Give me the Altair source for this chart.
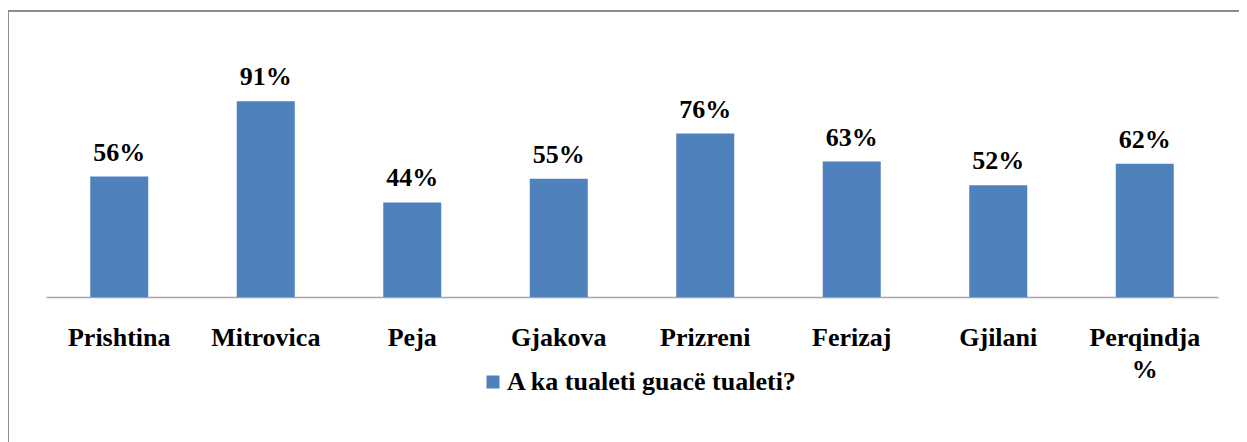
import altair as alt
import pandas as pd

categories = ["Prishtina", "Mitrovica", "Peja", "Gjakova", "Prizreni", "Ferizaj", "Gjilani", "Perqindja %"]
values = [56, 91, 44, 55, 76, 63, 52, 62]
series_name = "A ka tualeti guacë tualeti?"

df = pd.DataFrame({"cat": categories, "val": values, "series": [series_name] * len(categories)})
df["lbl"] = df["val"].astype(str) + "%"

FONT = "Times New Roman"
BLUE = "#4F81BD"

base = alt.Chart(df)

frame = alt.Chart(pd.DataFrame({"a": [0]})).mark_rect(
    fill=None, stroke="#8c8c8c", strokeWidth=2
).encode(
    x=alt.value(-38), x2=alt.value(1194), y=alt.value(-71), y2=alt.value(420)
)

bars = base.mark_bar(size=58).encode(
    x=alt.X("cat:N", sort=categories,
            scale=alt.Scale(paddingInner=0.6, paddingOuter=0.3),
            axis=alt.Axis(title=None, labelAngle=0, ticks=False, domainColor="#a6a6a6",
                          domainWidth=1.5, labelFont=FONT, labelFontSize=26,
                          labelFontWeight="bold", labelColor="black", labelPadding=27,
                          labelLineHeight=32, labelBaseline="top",
                          labelExpr="datum.label == 'Perqindja %' ? ['Perqindja', '%'] : datum.label")),
    y=alt.Y("val:Q", scale=alt.Scale(domain=[0, 100]), axis=None),
    color=alt.Color("series:N", scale=alt.Scale(range=[BLUE]),
                    legend=alt.Legend(title=None, orient="none", legendX=434, legendY=287,
                                      symbolType="square", symbolSize=169,
                                      symbolStrokeWidth=0, labelOffset=1,
                                      labelFont=FONT, labelFontSize=26, labelFontWeight="bold",
                                      labelColor="black", labelLimit=0)),
)

labels = base.mark_text(dy=-11, baseline="bottom", font=FONT, fontSize=26,
                        fontWeight="bold", color="black").encode(
    x=alt.X("cat:N", sort=categories),
    y=alt.Y("val:Q"),
    text="lbl:N",
)

chart = alt.layer(frame, bars, labels).properties(
    width=1172, height=215,
    autosize=alt.AutoSizeParams(type="none"),
    padding={"left": 38, "top": 74, "right": 21, "bottom": 145},
).configure_view(stroke=None)

chart.save("out.html", embed_options={"renderer": "svg", "actions": False})
